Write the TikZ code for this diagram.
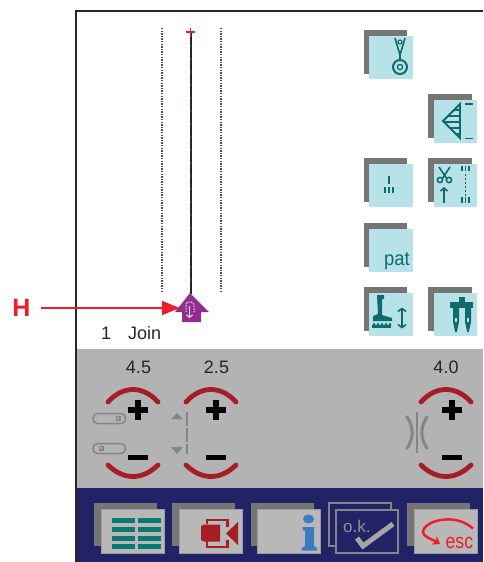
\documentclass[tikz,border=0pt]{standalone}
\usepackage{fontspec}
\setmainfont{Liberation Sans}
\usetikzlibrary{arrows.meta}
\definecolor{panelgray}{HTML}{B3B3B3}
\definecolor{bandblue}{HTML}{222266}
\definecolor{shadowgray}{HTML}{757575}
\definecolor{iconblue}{HTML}{B7E2E8}
\definecolor{teal1}{HTML}{0F6A6E}
\definecolor{dialred}{HTML}{A61E25}
\definecolor{arrowred}{HTML}{ED1C2E}
\definecolor{housepurple}{HTML}{952D8E}
\definecolor{symgray}{HTML}{858585}
\definecolor{btngray}{HTML}{B8B8B8}
\definecolor{tablegreen}{HTML}{0A7A70}
\definecolor{infoblue}{HTML}{3B7BC0}
\tikzset{
  valuelabel/.style={font=\fontsize{18}{18}\selectfont,text=black!85,inner sep=0pt},
  dialarc/.style={draw=dialred,line width=4.8pt,line cap=round},
  plussign/.style={draw=black,line width=5.8pt},
  minussign/.style={draw=black,line width=5pt},
  symline/.style={draw=symgray,line width=1.5pt},
  tealline/.style={draw=teal1,line width=1.6pt},
  dotline/.style={draw=black!70,line width=2pt,dash pattern=on 1.3pt off 1.3pt},
  tablebar/.style={fill=tablegreen},
  redfill/.style={fill=dialred},
}
\newcommand{\iconbtn}[2]{%
  \fill[shadowgray] (#1,#2) rectangle ++(43.5,43.5);
  \fill[iconblue] (#1+5.5,#2+5.5) rectangle ++(43.5,43.5);}
\newcommand{\barbtn}[1]{%
  \fill[shadowgray] (#1,503) rectangle ++(63,43);
  \fill[btngray,draw=symgray!80,line width=.8pt] (#1+7,509.5) rectangle ++(63,43.5);}
\newcommand{\dialunit}[2]{%
  \begin{scope}[shift={(#1,0)}]
    \draw[dialarc] (108,402) .. controls (116,393) and (125,389.5) .. (133,389.5) .. controls (141,389.5) and (150,393) .. (158,402);
    \draw[dialarc] (108,465) .. controls (116,473) and (125,476.5) .. (133,476.5) .. controls (141,476.5) and (150,473) .. (158,465);
    \draw[plussign] (#2-10,410) -- (#2+10,410);
    \draw[plussign] (#2,400) -- (#2,420);
    \draw[minussign] (#2-10,457) -- (#2+10,457);
  \end{scope}}
\begin{document}
\begin{tikzpicture}[x=1pt,y=-1pt]
\useasboundingbox (0,0) rectangle (483,562);
\fill[white] (0,0) rectangle (483,562);
% panels
\fill[panelgray] (76,349) rectangle (483,488);
\fill[bandblue] (76,488) rectangle (483,562);
\draw[black!85,line width=2pt] (483,11) -- (76,11) -- (76,562);
% stitch guides
\draw[dotline] (161.5,28) -- (161.5,291);
\draw[dotline] (220.5,28) -- (220.5,291);
\draw[black!85,line width=2pt] (190.5,33) -- (190.5,294);
\foreach \yy in {45,58,71,84,97,110,123,136,149,162,175,188,201,214,227,240,253,266,279}
  \fill[green!60!black] (189.7,\yy) rectangle ++(1.6,1.6);
\draw[arrowred,line width=1.7pt] (186,32) -- (195,32) (190.5,28) -- (190.5,36.5);
% icon buttons
\iconbtn{363.5}{30}
\iconbtn{428}{94}
\iconbtn{363.5}{158}
\iconbtn{428}{158}
\iconbtn{363.5}{223}
\iconbtn{363.5}{287}
\iconbtn{428}{287}
% needle plate icon
\draw[tealline] (395,38) -- (400,55) -- (405,38) (400,55) -- (400,59);
\draw[tealline,line width=1.1pt] (400,42) circle (2);
\draw[tealline,line width=2pt] (400,67) circle (7);
\draw[tealline,line width=1.3pt] (400,67) circle (2.6);
% triangle icon
\draw[tealline,line width=1.9pt] (460,104) -- (443,121) -- (460,138) -- cycle;
\foreach \yy/\xs in {110/454,116/448,122/444,128/450,134/456}
  \draw[tealline,line width=1.3pt] (\xs,\yy) -- (460,\yy);
\draw[tealline,line width=1.3pt] (465,104) -- (473,104) (465,138.5) -- (473,138.5);
% single and triple
\draw[tealline] (389,176) -- (389,184);
\draw[tealline] (385,187) -- (385,193) (389,187) -- (389,193) (393,187) -- (393,193);
% scissors
\draw[tealline] (439,167) -- (447,179) (450,167) -- (442,179);
\draw[tealline] (440,180) circle (2.6) (449,180) circle (2.6);
\draw[tealline,-{Straight Barb[length=3pt,width=7pt]}] (444,203) -- (444,187);
\draw[tealline] (462,166) -- (462,171) (465.5,166) -- (465.5,171) (469,166) -- (469,171);
\draw[tealline,dash pattern=on 2pt off 2pt] (465.5,174) -- (465.5,196);
\draw[tealline] (462,197) -- (462,203) (465.5,197) -- (465.5,203) (469,197) -- (469,203);
% pat
\node[font=\fontsize{20}{20}\selectfont,text=teal1,inner sep=0pt,anchor=base,xscale=.92] (pat) at (397,265) {pat};
% presser foot icon
\fill[teal1] (377,295) -- (384,295) -- (384,299) -- (382,299) -- (382,315) -- (392,318) -- (392,321) -- (373,321) -- (373,316) -- (378,314) -- cycle;
\fill[teal1] (372,325) -- (391,325) -- (391,328) -- (372,328) -- cycle;
\foreach \xx in {374,378,382,386,390}
  \fill[teal1] (\xx-1.5,325) -- (\xx,322.5) -- (\xx+1.5,325) -- cycle;
\draw[tealline,{Straight Barb[length=3pt,width=8pt]}-{Straight Barb[length=3pt,width=8pt]}] (402,307.5) -- (402,328.5);
% twin needle icon
\fill[teal1] (450,302) rectangle (473,308);
\fill[teal1] (459,297) rectangle (465,302);
\foreach \xx in {456,468}{
  \fill[teal1] (\xx-3,308) -- (\xx+3,308) -- (\xx+3,322) -- (\xx+.8,332) -- (\xx-.8,332) -- (\xx-3,322) -- cycle;
  \fill[iconblue] (\xx-.7,318) rectangle (\xx+.7,322);
}
% house marker
\node[minimum width=21pt,minimum height=16pt,inner sep=0pt] (house) at (190.5,308) {};
\fill[housepurple] (190,293) -- (209,312) -- (201,312) -- (201,322) -- (182,322) -- (182,312) -- (175,312) -- cycle;
\draw[white!90!housepurple,line width=1pt,dash pattern=on 1.5pt off 1.2pt,rounded corners=3pt] (186,312) -- (186,302) -- (194,302) -- (194,312);
\draw[white!90!housepurple,line width=1pt,-{Straight Barb[length=2.5pt,width=6pt]}] (189.5,306) -- (189.5,318);
% H pointer
\node[minimum width=39pt,inner sep=0pt,text=arrowred,font=\fontsize{25}{25}\selectfont\bfseries] (H) at (21.5,308) {H};
\draw[arrowred,line width=2.3pt,-{Triangle[length=18pt,width=14pt]}] (H.east) -- (house.west);
% labels
\node[valuelabel,anchor=base west] (num) at (101,339) {1};
\node[valuelabel,anchor=base west] (join) at (128,339) {Join};
\node[valuelabel] (v1) at (138.5,367) {4.5};
\node[valuelabel] (v2) at (216.5,367) {2.5};
\node[valuelabel] (v3) at (446,367) {4.0};
% dials
\dialunit{0}{138}
\dialunit{78}{138}
\dialunit{313}{139}
% slots
\draw[symline,rounded corners=4.5pt] (93,413.5) rectangle (125.5,423.5);
\draw[symline] (116.5,416.5) rectangle (120,420);
\draw[symline,rounded corners=4.5pt] (93,443.5) rectangle (125.5,453.5);
\draw[symline] (99.5,446.5) rectangle (103,450);
\fill[symgray] (171,419) -- (183,419) -- (177,413) -- cycle;
\fill[symgray] (171,447) -- (183,447) -- (177,454) -- cycle;
\draw[symgray,line width=1.6pt,dash pattern=on 14pt off 2pt] (187,412) -- (187,454);
% width symbol
\draw[symline] (417,412) -- (417,453);
\draw[symgray,line width=3pt] (406.5,416) .. controls (414,427) and (414,438) .. (406.5,449);
\draw[symgray,line width=3pt] (427.5,416) .. controls (420,427) and (420,438) .. (427.5,449);
% bottom buttons
\barbtn{94}
\barbtn{172}
\barbtn{250.5}
\barbtn{407}
% table icon
\foreach \yy/\hh in {518/5,527/5,535.5/5,544/5}{
  \fill[tablebar] (112,\yy) rectangle ++(22.5,\hh);
  \fill[tablebar] (138,\yy) rectangle ++(22.5,\hh);
}
% video icon
\fill[redfill] (201,526) -- (204,524.5) -- (220,524.5) -- (220,541.5) -- (204,541.5) -- (201,540) -- cycle;
\draw[dialred,line width=2.4pt] (207,524) -- (207,520) -- (227.5,520) -- (227.5,527);
\draw[dialred,line width=2.4pt] (207,541) -- (207,547) -- (227.5,547) -- (227.5,540);
\fill[redfill] (226,533.5) -- (238,522) -- (238,545) -- cycle;
% info icon
\fill[infoblue] (308.5,519) ellipse (5.5 and 4.5);
\fill[infoblue] (302.5,527) -- (314,527) -- (314,546) -- (317,548) -- (317,550.5) -- (301.5,550.5) -- (301.5,548) -- (305,546) -- (305,531) -- (302.5,530) -- cycle;
% ok button
\draw[symgray,line width=1.4pt] (329,503) rectangle (391,546);
\fill[bandblue] (336,510) rectangle (398,553);
\draw[symgray,line width=1.4pt] (336,510) rectangle (398,553);
\node[font=\fontsize{17}{17}\selectfont,text=symgray!90!white,inner sep=0pt,anchor=base west] (ok) at (343,532) {o.k.};
\draw[btngray!90!black,line width=5pt] (357,538) -- (363,546) -- (393,524);
% esc
\draw[arrowred,line width=2.5pt,-{Stealth[length=7pt,width=10pt]}] (473,528.5) .. controls (464,521) and (455,519) .. (446,519.5) .. controls (433,520) and (423,526) .. (423,532) .. controls (423,537) and (432,539) .. (440,544);
\node[font=\fontsize{21}{21}\selectfont,text=arrowred,inner sep=0pt,anchor=base west,xscale=.84] (esc) at (445.5,548) {esc};
\end{tikzpicture}
\end{document}
